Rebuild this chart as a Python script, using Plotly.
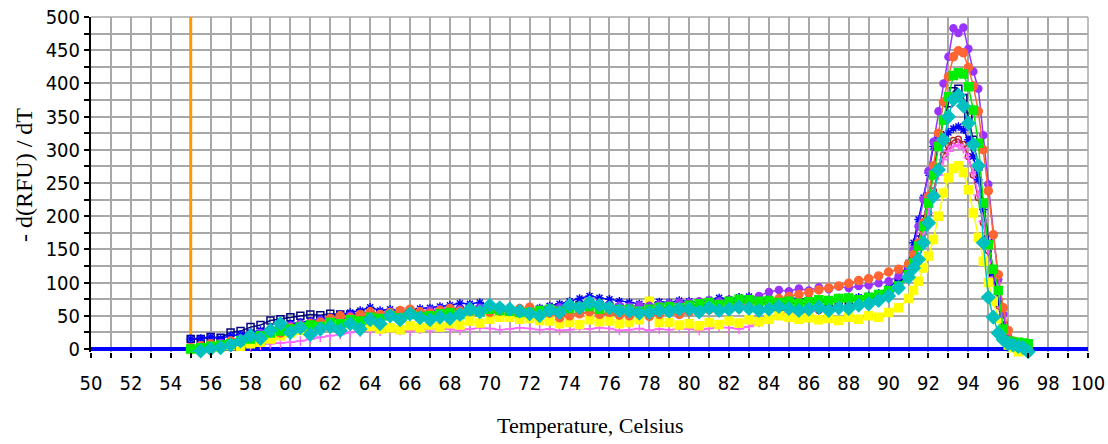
import plotly.graph_objects as go

# Temperature grid (deg C): 55.0..91.0 every 0.5, then 91.25..97.0 every 0.25
TEMPS = [55.0, 55.5, 56.0, 56.5, 57.0, 57.5, 58.0, 58.5, 59.0, 59.5,
         60.0, 60.5, 61.0, 61.5, 62.0, 62.5, 63.0, 63.5, 64.0, 64.5,
         65.0, 65.5, 66.0, 66.5, 67.0, 67.5, 68.0, 68.5, 69.0, 69.5,
         70.0, 70.5, 71.0, 71.5, 72.0, 72.5, 73.0, 73.5, 74.0, 74.5,
         75.0, 75.5, 76.0, 76.5, 77.0, 77.5, 78.0, 78.5, 79.0, 79.5,
         80.0, 80.5, 81.0, 81.5, 82.0, 82.5, 83.0, 83.5, 84.0, 84.5,
         85.0, 85.5, 86.0, 86.5, 87.0, 87.5, 88.0, 88.5, 89.0, 89.5,
         90.0, 90.5, 91.0,
         91.25, 91.5, 91.75, 92.0, 92.25, 92.5, 92.75, 93.0, 93.25, 93.5,
         93.75, 94.0, 94.25, 94.5, 94.75, 95.0, 95.25, 95.5, 95.75, 96.0,
         96.25, 96.5, 96.75, 97.0]

PURPLE = [0, 2, 6, 9, 12, 16, 20, 24, 28, 31,
          35, 38, 40, 43, 45, 47, 50, 52, 55, 53,
          56, 55, 57, 55, 58, 60, 62, 60, 63, 62,
          62, 60, 58, 57, 58, 60, 62, 63, 65, 66,
          68, 67, 66, 65, 64, 66, 65, 67, 68, 70,
          70, 72, 73, 72, 74, 75, 76, 80, 86, 89,
          87, 91, 88, 93, 90, 94, 92, 95, 96, 99,
          102, 110, 122,
          150, 185, 225, 268, 312, 358, 400, 440, 483, 476,
          484, 452, 418, 392, 322, 248, 172, 105, 52, 18,
          8, 4, 2, 1]

ORANGE = [2, 5, 8, 6, 12, 10, 18, 15, 26, 24,
          32, 35, 38, 40, 46, 50, 47, 52, 56, 52,
          55, 58, 60, 56, 54, 58, 61, 57, 60, 56,
          55, 57, 59, 61, 63, 58, 54, 47, 50, 53,
          56, 52, 55, 51, 50, 53, 49, 52, 55, 52,
          56, 58, 60, 57, 63, 66, 68, 70, 73, 76,
          79, 82, 85, 89, 92, 95, 99, 103, 106, 110,
          116, 120, 128,
          142, 160, 190, 230, 276, 325, 372, 410, 440, 449,
          446, 424, 396, 358, 300, 238, 172, 112, 62, 28,
          12, 6, 3, 2]

GREEN = [0, 2, 4, 6, 8, 12, 15, 20, 24, 27,
         30, 33, 36, 34, 40, 38, 44, 42, 48, 46,
         50, 47, 52, 49, 50, 53, 55, 52, 58, 56,
         60, 58, 57, 55, 55, 58, 60, 57, 61, 63,
         64, 60, 62, 59, 60, 57, 60, 63, 64, 62,
         66, 68, 70, 67, 72, 75, 74, 72, 73, 70,
         72, 69, 71, 74, 73, 76, 77, 74, 78, 82,
         88, 95, 112,
         130, 155, 185, 220, 262, 305, 345, 380, 412, 416,
         414, 395, 360, 310, 220, 157, 120, 88, 30, 12,
         10, 10, 9, 8]

CYAN = [-5, -3, 0, 2, 6, 12, 20, 16, 28, 38,
        25, 32, 22, 30, 34, 28, 38, 30, 44, 38,
        50, 44, 53, 47, 44, 48, 46, 52, 60, 56,
        66, 62, 60, 57, 53, 50, 58, 55, 66, 62,
        70, 66, 62, 58, 57, 54, 55, 58, 57, 60,
        60, 56, 62, 58, 60, 63, 61, 58, 60, 64,
        61, 58, 60, 63, 58, 62, 61, 66, 68, 73,
        80, 92, 108,
        122, 135, 160, 190, 230, 270, 315, 350, 376, 382,
        366, 340, 308, 276, 160, 78, 48, 24, 14, 8,
        6, 4, 2, -4]

YELLOW = [0, 0, 2, 3, 5, 4, 8, 10, 15, 20,
          24, 28, 30, 33, 35, 38, 38, 36, 34, 30,
          32, 29, 35, 32, 36, 33, 38, 36, 42, 39,
          45, 48, 48, 45, 46, 43, 42, 38, 40, 37,
          44, 41, 42, 38, 40, 44, 72, 40, 40, 36,
          38, 35, 40, 37, 42, 39, 44, 41, 45, 50,
          48, 45, 47, 44, 46, 43, 48, 45, 50, 48,
          55, 62, 76,
          88, 102, 122, 140, 165, 200, 235, 258, 272, 276,
          266, 240, 205, 168, 132, 100, 72, 46, 20, 6,
          2, -4, -5, -5]

BLUE = [15, 16, 18, 16, 20, 22, 25, 28, 30, 34,
        38, 40, 42, 45, 48, 52, 55, 58, 63, 58,
        60, 57, 58, 61, 62, 64, 66, 69, 68, 70,
        66, 64, 60, 56, 58, 62, 65, 68, 72, 76,
        80, 77, 75, 72, 70, 68, 68, 71, 70, 73,
        72, 70, 74, 77, 75, 78, 79, 76, 76, 74,
        78, 75, 76, 73, 74, 77, 75, 78, 80, 84,
        92, 105, 130,
        160, 195, 228, 265, 305, 318, 322, 326, 332, 335,
        330, 315, 290, 255, 210, 160, 115, 72, 35, 12,
        5, 2, 0, 0]

NAVY = [15, 15, 18, 17, 25, 27, 33, 36, 43, 45,
        48, 50, 52, 51, 53, 52, 52, 54, 55, 53,
        54, 56, 57, 55, 56, 58, 60, 58, 62, 60,
        61, 58, 55, 53, 55, 57, 60, 62, 64, 66,
        68, 66, 64, 62, 60, 62, 61, 63, 64, 66,
        66, 65, 68, 70, 70, 71, 72, 70, 70, 68,
        70, 68, 69, 70, 70, 72, 72, 74, 76, 80,
        88, 98, 120,
        140, 165, 195, 230, 270, 310, 345, 370, 388, 392,
        378, 350, 315, 275, 220, 165, 115, 70, 35, 12,
        5, 3, 2, 1]

MAGENTA = [0, 1, 2, 3, 3, 5, 5, 6, 8, 9,
           10, 12, 15, 18, 20, 22, 25, 26, 28, 27,
           30, 28, 27, 30, 29, 31, 30, 28, 30, 32,
           31, 29, 30, 32, 31, 29, 30, 28, 29, 31,
           30, 32, 31, 28, 29, 31, 28, 30, 29, 31,
           30, 28, 31, 33, 32, 30, 34, 40, 48, 52,
           55, 53, 56, 58, 57, 60, 62, 64, 66, 72,
           82, 95, 110,
           128, 150, 175, 205, 235, 262, 285, 298, 305, 308,
           302, 288, 265, 232, 192, 150, 108, 68, 35, 12,
           4, 2, 1, 0]

BROWN = [3, 5, 8, 10, 14, 16, 22, 25, 30, 32,
         36, 38, 40, 42, 44, 46, 47, 48, 50, 48,
         52, 50, 53, 51, 52, 54, 55, 53, 56, 55,
         56, 54, 52, 50, 51, 53, 54, 50, 52, 54,
         55, 53, 52, 50, 50, 52, 51, 53, 54, 52,
         55, 57, 58, 56, 58, 60, 61, 59, 60, 58,
         59, 61, 60, 58, 61, 63, 64, 66, 70, 75,
         82, 92, 108,
         125, 148, 175, 205, 238, 268, 292, 306, 314, 316,
         308, 290, 262, 228, 190, 148, 105, 65, 32, 10,
         4, 2, 1, 0]

SERIES = [
    ("Navy", NAVY, "#000080", "square-open", 7),
    ("Brown", BROWN, "#b02828", "circle-open", 6),
    ("Magenta", MAGENTA, "#ff66ff", "cross-thin-open", 7),
    ("Blue", BLUE, "#0000ff", "asterisk-open", 7),
    ("Yellow", YELLOW, "#ffff00", "square", 8),
    ("Purple", PURPLE, "#9933ff", "circle", 7),
    ("Orange", ORANGE, "#ff6633", "circle", 8),
    ("Green", GREEN, "#00ee00", "square", 8),
    ("Cyan", CYAN, "#00c0c0", "diamond", 10),
]

fig = go.Figure()
for name, vals, color, sym, size in SERIES:
    fig.add_trace(go.Scatter(
        x=TEMPS, y=vals, mode="lines+markers", name=name,
        line=dict(color=color, width=1.5),
        marker=dict(color=color, symbol=sym, size=size,
                    line=dict(color=color, width=1.5)),
        cliponaxis=False, hoverinfo="skip",
    ))

GRID = "#a8a8a8"
TICKFONT = dict(family="Liberation Sans Narrow, DejaVu Sans Condensed, DejaVu Sans, sans-serif",
                size=20, color="black")

fig.update_xaxes(
    range=[50, 100], tickmode="linear", tick0=50, dtick=2,
    showgrid=True, gridcolor=GRID, gridwidth=1.5,
    ticks="outside", ticklen=5, tickwidth=1.5, tickcolor="black",
    minor=dict(tick0=50, dtick=1, showgrid=True, gridcolor=GRID, gridwidth=1.5,
               ticks="outside", ticklen=5, tickwidth=1.5, tickcolor="black"),
    showline=False, zeroline=False, tickfont=TICKFONT, automargin=False,
    ticklabelstandoff=8,
)
fig.update_yaxes(
    range=[-4.5, 500], tickmode="linear", tick0=0, dtick=50,
    showgrid=True, gridcolor=GRID, gridwidth=1.5,
    ticks="outside", ticklen=5, tickwidth=1.5, tickcolor="black",
    minor=dict(tick0=0, dtick=25, showgrid=True, gridcolor=GRID, gridwidth=1.5,
               ticks="outside", ticklen=5, tickwidth=1.5, tickcolor="black"),
    showline=True, linecolor="black", linewidth=2, zeroline=False,
    tickfont=TICKFONT, automargin=False,
)

shapes = [
    dict(type="line", xref="paper", yref="paper", x0=0, x1=1, y0=1, y1=1,
         line=dict(color=GRID, width=1.5), layer="between"),
    dict(type="line", xref="paper", yref="paper", x0=1, x1=1, y0=0, y1=1,
         line=dict(color=GRID, width=1.5), layer="between"),
    dict(type="line", xref="x", yref="y", x0=55, x1=55, y0=0, y1=500,
         line=dict(color="#ff9900", width=3), layer="between"),
    dict(type="line", xref="x", yref="y", x0=50, x1=100, y0=0, y1=0,
         line=dict(color="#0000ff", width=4), layer="between"),
]

TITLEFONT = dict(family="Liberation Serif, Times New Roman, serif", color="black")
annotations = [
    dict(text="- d(RFU) / dT", xref="paper", yref="paper",
         x=(24 - 91) / 997, y=(352 - 175) / 335, showarrow=False,
         textangle=-90, font=dict(size=24, **TITLEFONT),
         xanchor="center", yanchor="middle"),
    dict(text="Temperature, Celsius", xref="paper", yref="paper",
         x=(590 - 91) / 997, y=(352 - 425) / 335, showarrow=False,
         font=dict(size=22, **TITLEFONT), xanchor="center", yanchor="middle"),
]

fig.update_layout(
    width=1108, height=444,
    margin=dict(l=91, r=20, t=17, b=92, autoexpand=False),
    plot_bgcolor="white", paper_bgcolor="white",
    showlegend=False, shapes=shapes, annotations=annotations,
    hovermode=False,
)

fig.write_html("out.html", config={"displayModeBar": False},
               post_script="document.body.style.margin='0px';document.body.style.padding='0px';")
